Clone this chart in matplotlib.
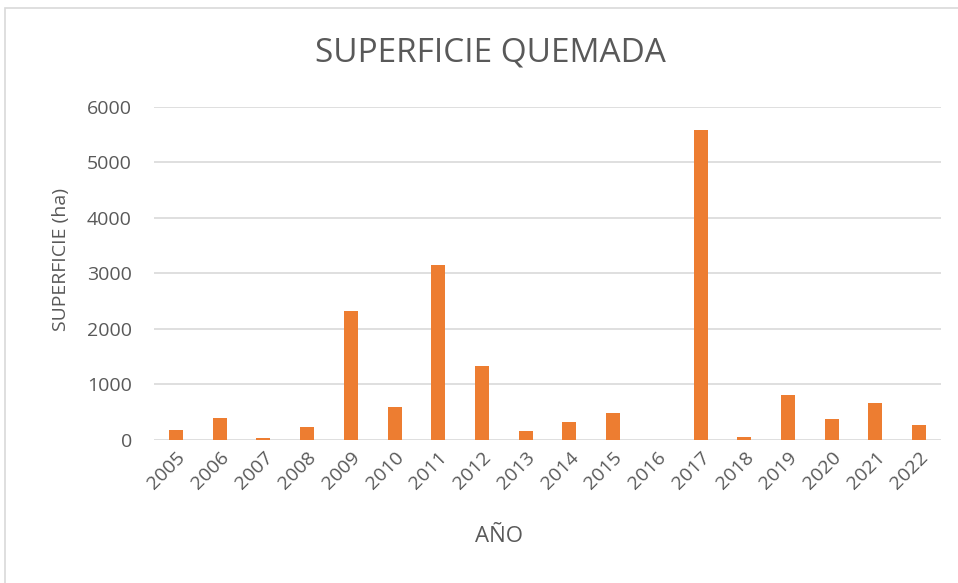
import matplotlib.pyplot as plt
from matplotlib.patches import Rectangle

anios = ['2005', '2006', '2007', '2008', '2009', '2010', '2011', '2012', '2013',
         '2014', '2015', '2016', '2017', '2018', '2019', '2020', '2021', '2022']
superficie = [180, 390, 40, 230, 2320, 595, 3150, 1330, 155,
              330, 480, 0, 5580, 60, 805, 385, 660, 270]

plt.rcParams['font.family'] = ['Open Sans', 'DejaVu Sans']
gris = '#595959'

fig = plt.figure(figsize=(9.58, 5.83), dpi=100)
ax = fig.add_axes([0.1608, 0.2453, 0.8215, 0.5717])

# marco del gráfico
fig.patches.append(Rectangle((5 / 958, -0.01), 1.0, 1 - 8 / 583 + 0.01,
                             transform=fig.transFigure, fill=False,
                             edgecolor='#d9d9d9', linewidth=1.2))

x = range(len(anios))
ax.bar(x, superficie, width=0.32, color='#ED7D31', zorder=3)

ax.set_xlim(-0.5, len(anios) - 0.5)
ax.set_ylim(0, 6000)
ax.set_yticks(range(0, 7000, 1000))
ax.grid(axis='y', color='#d9d9d9', linewidth=1.2, zorder=0)
for s in ax.spines.values():
    s.set_visible(False)
ax.tick_params(length=0, labelsize=14, labelcolor=gris)
ax.tick_params(axis='y', pad=16)
ax.tick_params(axis='x', pad=6)
ax.set_xticks(list(x))
ax.set_xticklabels(anios, rotation=45, ha='right', rotation_mode='anchor')

fig.text(490 / 958, 1 - 53 / 583, 'SUPERFICIE QUEMADA', fontsize=24, color=gris,
         ha='center', va='center')
fig.text(499 / 958, 1 - 537 / 583, 'AÑO', fontsize=16, color=gris,
         ha='center', va='center')
fig.text(61 / 958, 1 - 259 / 583, 'SUPERFICIE (ha)', fontsize=14, color=gris,
         ha='center', va='center', rotation=90)

fig.savefig('out.png', dpi=100)
